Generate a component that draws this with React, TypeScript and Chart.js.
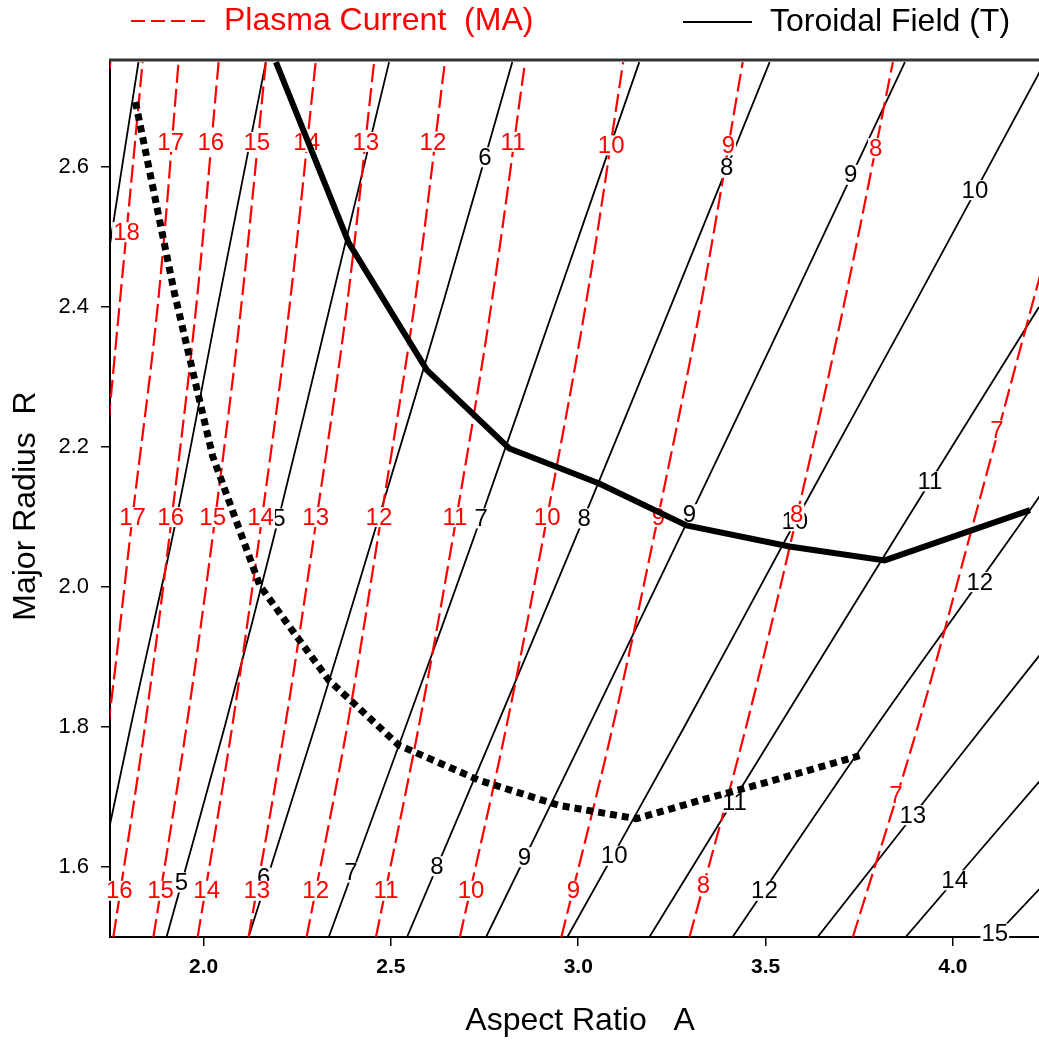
import React, { useEffect, useRef } from 'react';
import { Chart, registerables } from 'chart.js';

Chart.register(...registerables);

const FONT = '"Liberation Sans", Arial, Helvetica, sans-serif';

// Major radius levels at which each contour line is sampled (bottom -> top)
const R_LEVELS = [1.5, 1.8, 2.1, 2.4, 2.75];

// Plasma current contours (MA): aspect ratio A at each R level
const IP_VALUES = [19, 18, 17, 16, 15, 14, 13, 12, 11, 10, 9, 8, 7];
const IP_19 = [1.46, 1.53, 1.6, 1.672, 1.751];
const IP_18 = [1.58, 1.65, 1.72, 1.775, 1.837];
const IP_17 = [1.67, 1.745, 1.81, 1.877, 1.933];
const IP_16 = [1.759, 1.843, 1.915, 1.98, 2.04];
const IP_15 = [1.866, 1.954, 2.031, 2.1, 2.166];
const IP_14 = [1.984, 2.076, 2.156, 2.229, 2.299];
const IP_13 = [2.12, 2.217, 2.302, 2.382, 2.455];
const IP_12 = [2.275, 2.383, 2.474, 2.562, 2.644];
const IP_11 = [2.46, 2.574, 2.675, 2.767, 2.858];
const IP_10 = [2.684, 2.808, 2.917, 3.019, 3.12];
const IP_9 = [2.955, 3.092, 3.213, 3.326, 3.439];
const IP_8 = [3.297, 3.448, 3.583, 3.708, 3.84];
const IP_7 = [3.733, 3.906, 4.059, 4.21, 4.388];
const IP_LINES = [IP_19, IP_18, IP_17, IP_16, IP_15, IP_14, IP_13, IP_12, IP_11, IP_10, IP_9, IP_8, IP_7];

// Toroidal field contours (T): aspect ratio A at each R level
const BT_VALUES = [3, 4, 5, 6, 7, 8, 9, 10, 11, 12, 13, 14, 15];
const BT_3 = [1.46, 1.55, 1.64, 1.724, 1.826];
const BT_4 = [1.687, 1.805, 1.928, 2.037, 2.166];
const BT_5 = [1.901, 2.056, 2.201, 2.337, 2.495];
const BT_6 = [2.12, 2.297, 2.468, 2.636, 2.824];
const BT_7 = [2.334, 2.539, 2.741, 2.936, 3.163];
const BT_8 = [2.543, 2.781, 3.016, 3.246, 3.511];
const BT_9 = [2.754, 3.027, 3.297, 3.564, 3.872];
const BT_10 = [2.971, 3.283, 3.586, 3.893, 4.246];
const BT_11 = [3.19, 3.535, 3.881, 4.23, 4.639];
const BT_12 = [3.412, 3.794, 4.193, 4.58];
const BT_13 = [3.639, 4.08, 4.524];
const BT_14 = [3.874, 4.356];
const BT_15 = [4.11, 4.64];
const BT_LINES = [BT_3, BT_4, BT_5, BT_6, BT_7, BT_8, BT_9, BT_10, BT_11, BT_12, BT_13, BT_14, BT_15];

// Heavy solid curve
const BOLD_A = [2.193, 2.388, 2.596, 2.816, 3.056, 3.289, 3.564, 3.818, 4.206];
const BOLD_R = [2.75, 2.491, 2.31, 2.198, 2.148, 2.088, 2.058, 2.038, 2.11];

// Heavy dotted curve
const DOT_A = [1.818, 1.922, 2.024, 2.15, 2.219, 2.334, 2.521, 2.735, 2.949, 3.155, 3.324, 3.503, 3.751];
const DOT_R = [2.693, 2.42, 2.187, 2.002, 1.951, 1.867, 1.774, 1.724, 1.688, 1.669, 1.695, 1.721, 1.759];

// Contour labels: [text, A, R]
const IP_LABELS: [string, number, number][] = [
  ['18', 1.794, 2.507], ['17', 1.912, 2.636], ['16', 2.019, 2.636], ['15', 2.142, 2.636],
  ['14', 2.275, 2.636], ['13', 2.433, 2.636], ['12', 2.612, 2.636], ['11', 2.826, 2.636],
  ['10', 3.088, 2.631], ['9', 3.401, 2.631], ['8', 3.794, 2.627],
  ['17', 1.81, 2.1], ['16', 1.912, 2.1], ['15', 2.024, 2.1], ['14', 2.152, 2.1],
  ['13', 2.299, 2.1], ['12', 2.468, 2.1], ['11', 2.671, 2.1], ['10', 2.917, 2.1],
  ['9', 3.214, 2.1], ['8', 3.583, 2.104], ['7', 4.118, 2.224],
  ['16', 1.775, 1.566], ['15', 1.885, 1.566], ['14', 2.008, 1.566], ['13', 2.142, 1.566],
  ['12', 2.299, 1.566], ['11', 2.487, 1.566], ['10', 2.714, 1.566], ['9', 2.987, 1.566],
  ['8', 3.334, 1.574], ['7', 3.848, 1.702],
];
const BT_LABELS: [string, number, number][] = [
  ['6', 2.751, 2.614], ['8', 3.396, 2.599], ['9', 3.727, 2.589], ['10', 4.059, 2.567],
  ['5', 2.201, 2.098], ['7', 2.741, 2.098], ['8', 3.016, 2.098], ['9', 3.297, 2.104],
  ['10', 3.578, 2.094], ['11', 3.939, 2.151], ['12', 4.072, 2.007],
  ['5', 1.941, 1.578], ['6', 2.16, 1.585], ['7', 2.393, 1.592], ['8', 2.623, 1.601],
  ['9', 2.856, 1.614], ['10', 3.096, 1.616], ['11', 3.417, 1.692], ['12', 3.497, 1.566],
  ['13', 3.893, 1.674], ['14', 4.005, 1.581], ['15', 4.112, 1.505],
];

const X_TICKS = [2.0, 2.5, 3.0, 3.5, 4.0];
const Y_TICKS = [1.6, 1.8, 2.0, 2.2, 2.4, 2.6];

const toPts = (as: number[]) => as.map((a, i) => ({ x: a, y: R_LEVELS[i] }));

function drawLabel(ctx: CanvasRenderingContext2D, chart: any, lab: [string, number, number], color: string) {
  const x = chart.scales.x.getPixelForValue(lab[1]);
  const y = chart.scales.y.getPixelForValue(lab[2]);
  ctx.font = `24px ${FONT}`;
  const w = ctx.measureText(lab[0]).width;
  ctx.fillStyle = '#ffffff';
  ctx.fillRect(x - w / 2 - 1, y - 10, w + 2, 20);
  ctx.fillStyle = color;
  ctx.textAlign = 'center';
  ctx.textBaseline = 'middle';
  ctx.fillText(lab[0], x, y + 1);
}

const overlayPlugin = {
  id: 'overlay',
  beforeDatasetDraw(chart: any, args: any) {
    if (args.index !== 1) return;
    const ctx = chart.ctx as CanvasRenderingContext2D;
    ctx.save();
    BT_LABELS.forEach((l) => drawLabel(ctx, chart, l, '#000000'));
    IP_LABELS.forEach((l) => drawLabel(ctx, chart, l, '#ff0000'));
    ctx.restore();
  },
  afterDraw(chart: any) {
    const ctx = chart.ctx as CanvasRenderingContext2D;
    const a = chart.chartArea;
    ctx.save();
    // top frame line
    ctx.strokeStyle = '#333333';
    ctx.lineWidth = 3;
    ctx.beginPath();
    ctx.moveTo(a.left - 1, a.top);
    ctx.lineTo(a.right, a.top);
    ctx.stroke();

    // legend
    ctx.lineWidth = 2;
    ctx.strokeStyle = '#ff0000';
    ctx.setLineDash([14, 6]);
    ctx.beginPath();
    ctx.moveTo(131, 21);
    ctx.lineTo(205, 21);
    ctx.stroke();
    ctx.setLineDash([]);
    ctx.strokeStyle = '#000000';
    ctx.beginPath();
    ctx.moveTo(683, 22);
    ctx.lineTo(752, 22);
    ctx.stroke();
    ctx.font = `32px ${FONT}`;
    ctx.textAlign = 'left';
    ctx.textBaseline = 'middle';
    ctx.fillStyle = '#ff0000';
    ctx.fillText('Plasma Current  (MA)', 224, 21);
    ctx.fillStyle = '#000000';
    ctx.fillText('Toroidal Field (T)', 770, 22);

    // axis titles
    ctx.textAlign = 'center';
    ctx.fillText('Aspect Ratio   A', 580, 1021);
    ctx.translate(26, 506);
    ctx.rotate(-Math.PI / 2);
    ctx.fillText('Major Radius  R', 0, 0);
    ctx.restore();
  },
};

export default function App() {
  const ref = useRef<HTMLCanvasElement | null>(null);

  useEffect(() => {
    if (!ref.current) return;
    const datasets: any[] = [];
    datasets.push({
      data: BOLD_A.map((a, i) => ({ x: a, y: BOLD_R[i] })),
      borderColor: '#000000',
      borderWidth: 6,
      showLine: true,
      pointRadius: 0,
      tension: 0,
    });
    datasets.push({
      data: DOT_A.map((a, i) => ({ x: a, y: DOT_R[i] })),
      borderColor: '#000000',
      borderWidth: 7,
      borderDash: [7, 5],
      borderCapStyle: 'butt',
      borderJoinStyle: 'miter',
      showLine: true,
      pointRadius: 0,
      tension: 0,
    });
    IP_LINES.forEach((line, i) => {
      datasets.push({
        label: `Ip ${IP_VALUES[i]}`,
        data: toPts(line),
        borderColor: '#ff0000',
        borderWidth: 2.2,
        borderDash: [18, 6],
        showLine: true,
        pointRadius: 0,
        tension: 0.35,
      });
    });
    BT_LINES.forEach((line, i) => {
      datasets.push({
        label: `Bt ${BT_VALUES[i]}`,
        data: toPts(line),
        borderColor: '#000000',
        borderWidth: 1.8,
        showLine: true,
        pointRadius: 0,
        tension: 0.35,
      });
    });

    const chart = new Chart(ref.current, {
      type: 'scatter',
      data: { datasets },
      options: {
        responsive: false,
        animation: false,
        layout: { padding: { top: 60, left: 0, right: 0, bottom: 0 } },
        plugins: { legend: { display: false }, tooltip: { enabled: false } },
        scales: {
          x: {
            type: 'linear',
            min: 1.75,
            max: 4.23,
            afterBuildTicks: (s: any) => { s.ticks = X_TICKS.map((v) => ({ value: v })); },
            afterFit: (s: any) => { s.height = 104; },
            grid: { drawOnChartArea: false, drawTicks: true, tickLength: 9, color: '#000000', lineWidth: 1.5 },
            border: { display: true, color: '#000000', width: 2 },
            ticks: {
              color: '#000000',
              padding: 9,
              font: { family: FONT, size: 21, weight: 'bold' },
              callback: (v: any) => Number(v).toFixed(1),
            },
          },
          y: {
            type: 'linear',
            min: 1.5,
            max: 2.753,
            afterBuildTicks: (s: any) => { s.ticks = Y_TICKS.map((v) => ({ value: v })); },
            afterFit: (s: any) => { s.width = 110; },
            grid: { drawOnChartArea: false, drawTicks: true, tickLength: 9, color: '#000000', lineWidth: 1.5 },
            border: { display: true, color: '#000000', width: 2 },
            ticks: {
              color: '#000000',
              padding: 12,
              font: { family: FONT, size: 22 },
              callback: (v: any) => Number(v).toFixed(1),
            },
          },
        },
      } as any,
      plugins: [overlayPlugin],
    });
    return () => chart.destroy();
  }, []);

  return (
    <div style={{ position: 'absolute', left: 0, top: 0, width: 1039, height: 1041, background: '#fff' }}>
      <canvas ref={ref} width={1039} height={1041} style={{ display: 'block', width: 1039, height: 1041 }} />
    </div>
  );
}
